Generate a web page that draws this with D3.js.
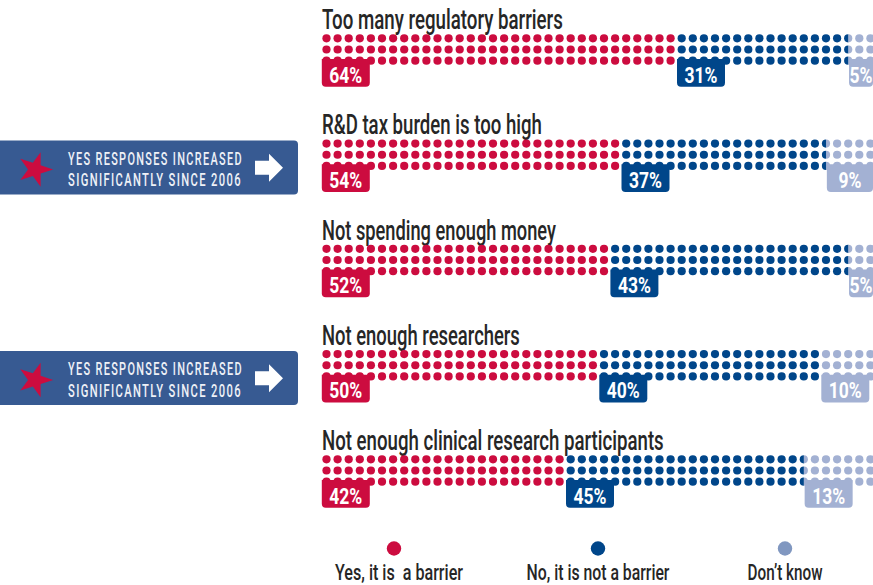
<!DOCTYPE html>
<html><head><meta charset="utf-8">
<script src="https://cdn.jsdelivr.net/npm/d3@7"></script>
<style>html,body{margin:0;padding:0;background:#fff}svg{display:block}text{font-family:Roboto,"Liberation Sans",sans-serif;white-space:pre}</style>
</head><body><svg id="c" width="873" height="585"></svg>
<script>
const categories = ["Too many regulatory barriers","R&D tax burden is too high","Not spending enough money","Not enough researchers","Not enough clinical research participants"];
const titleWidths = [241,220,234,198,342];
const yesLabels = [64,54,52,50,42];
const noLabels = [31,37,43,40,45];
const dkLabels = [5,9,5,10,13];
// extents of the dotted bars as drawn in the reference
const yesDrawn = [64,54,52,50,44];
const noDrawn = [31,37,43,40,43];
const flagged = [false,true,false,true,false];
const legendLabels = ["Yes, it is  a barrier","No, it is not a barrier","Don\u2019t know"];
const legendWidths = [128,143,75];
const legendPos = [394,598,785];
const colours = ["#cc0c3f","#00468a","#a3b1d3"];
const legendColours = ["#cc0c3f","#00468a","#8097c0"];
const bannerLines = ["YES RESPONSES INCREASED","SIGNIFICANTLY SINCE 2006"];

const svg = d3.select("#c");
const x = d3.scaleLinear().domain([0,100]).range([321,876]);
const rowY = d3.scalePoint().domain(d3.range(categories.length)).range([0,421]);
const dotCols = d3.range(0,100,2);
const dotRows = [0,1,2];
const dotX = i => x(i) + 5.5;
const dotY = r => 38.3 + r*11.2;
const defs = svg.append("defs");

// places a text at (px,py) and squeezes it horizontally to the wanted width
function fit(sel,px,py,width){
  const len=sel.node().getComputedTextLength();
  sel.attr("transform",`translate(${px},${py}) scale(${width/len},1)`);
  return sel;
}

categories.forEach((cat,i)=>{
  const g = svg.append("g").attr("transform",`translate(0,${rowY(i)})`);
  fit(g.append("text").attr("font-size",28).attr("font-weight",500).attr("fill","#262626").text(cat),322,29,titleWidths[i]);
  const starts=[0,yesDrawn[i],yesDrawn[i]+noDrawn[i]];
  const ends=[yesDrawn[i],yesDrawn[i]+noDrawn[i],102];
  const labels=[yesLabels[i],noLabels[i],dkLabels[i]];
  [2,1,0].forEach(s=>{
    const id=`clip${i}_${s}`;
    defs.append("clipPath").attr("id",id).append("rect")
      .attr("x",x(starts[s])).attr("width",x(ends[s])-x(starts[s])).attr("y",0).attr("height",100);
    const sg=g.append("g").attr("clip-path",`url(#${id})`);
    dotRows.forEach(r=>{
      sg.selectAll(null).data(dotCols).join("circle")
        .attr("cx",dotX).attr("cy",dotY(r)).attr("r",4.1).attr("fill",colours[s]);
    });
  });
  [0,1,2].forEach(s=>{
    const lx=x(starts[s])+0.8, w=Math.min(48,873-lx), t=59, b=86.8, c=4;
    g.append("path").attr("fill",colours[s])
      .attr("d",`M${lx},${t}H${lx+w}V${b-c}Q${lx+w},${b} ${lx+w-c},${b}H${lx+c}Q${lx},${b} ${lx},${b-c}Z`);
    const single=labels[s]<10;
    fit(g.append("text").attr("text-anchor","middle").attr("font-size",22.5)
      .attr("font-weight","bold").attr("fill","#fff").text(labels[s]+"%"),lx+w/2,82.5,single?23:33);
  });
  if(flagged[i]){
    const bg=g.append("g");
    bg.append("rect").attr("x",-10).attr("y",35.2).attr("width",308).attr("height",54).attr("rx",4).attr("fill","#375a92");
    bg.append("path").attr("d",d3.symbol().type(d3.symbolStar).size(370)())
      .attr("transform","translate(35,64.2) rotate(90)").attr("fill","#cc0c3f");
    bg.append("path").attr("fill","#fff").attr("d","M255,55.6H269V48.6L283,62.6L269,76.6V69.6H255Z");
    bannerLines.forEach((t,k)=>{
      fit(bg.append("text").attr("font-size",18).attr("font-weight",500).attr("fill","#eef1f7")
        .attr("letter-spacing",2.2).text(t),68,59.6+k*21.4,k?174:175);
    });
  }
});
legendLabels.forEach((t,i)=>{
  svg.append("circle").attr("cx",legendPos[i]).attr("cy",548.5).attr("r",7.2).attr("fill",legendColours[i]);
  fit(svg.append("text").attr("text-anchor","middle").attr("font-size",22).attr("font-weight",500).attr("fill","#262626").text(t),
    legendPos[i]+[5,0,0][i],580,legendWidths[i]);
});
</script></body></html>
